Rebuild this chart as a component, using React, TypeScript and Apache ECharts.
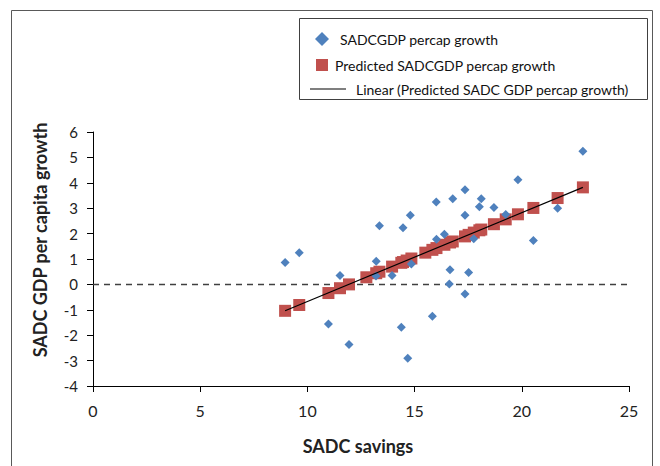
import React, { useEffect, useRef } from "react";
import * as echarts from "echarts";

// Observed SADC GDP per capita growth vs SADC savings
const observedX = [8.96, 9.62, 10.98, 11.52, 11.94, 13.21, 13.2, 13.36, 13.95, 14.38, 14.46, 14.68, 14.8, 14.85, 15.83, 16.01, 16.02, 16.39, 16.62, 16.65, 16.78, 17.35, 17.35, 17.35, 17.52, 17.76, 18.02, 18.11, 18.7, 19.25, 19.82, 20.54, 21.67, 22.85];
const observedY = [0.86, 1.25, -1.56, 0.35, -2.37, 0.91, 0.33, 2.31, 0.35, -1.69, 2.23, -2.91, 2.72, 0.8, -1.25, 3.24, 1.78, 1.97, 0.02, 0.58, 3.37, 3.73, 2.72, -0.38, 0.47, 1.8, 3.06, 3.37, 3.03, 2.75, 4.12, 1.73, 3.0, 5.24];

// Predicted values
const predictedX = [8.96, 9.62, 10.98, 11.52, 11.94, 12.75, 13.21, 13.36, 13.95, 14.38, 14.46, 14.63, 14.85, 15.5, 15.83, 16.02, 16.39, 16.65, 16.78, 17.35, 17.52, 17.76, 18.02, 18.11, 18.7, 19.25, 19.82, 20.54, 21.67, 22.85];
const predictedY = [-1.04, -0.81, -0.34, -0.15, 0.0, 0.28, 0.44, 0.5, 0.7, 0.85, 0.88, 0.94, 1.02, 1.25, 1.36, 1.43, 1.56, 1.65, 1.69, 1.89, 1.95, 2.04, 2.13, 2.16, 2.37, 2.56, 2.76, 3.01, 3.4, 3.82];

// Linear trendline endpoints
const trendX = [8.96, 22.85];
const trendY = [-1.04, 3.82];

// Zero reference line
const zeroX = [0, 25];
const zeroY = [0, 0];

const xTicks = { min: 0, max: 25, interval: 5 };
const yTicks = { min: -4, max: 6, interval: 1 };

const names = [
  "SADCGDP percap growth",
  "Predicted SADCGDP percap growth",
  "Linear (Predicted SADC GDP percap growth)",
];

const FONT = "Lato";

export default function App() {
  const ref = useRef<HTMLDivElement>(null);
  useEffect(() => {
    if (!ref.current) return;
    const chart = echarts.init(ref.current, null, { renderer: "svg" });
    const zip = (a: number[], b: number[]) => a.map((v, i) => [v, b[i]]);
    const legendText = { fontFamily: FONT, fontSize: 14, color: "#111" };
    chart.setOption({
      animation: false,
      backgroundColor: "#fff",
      grid: { left: 93, right: 31, top: 132, bottom: 80, containLabel: false },
      xAxis: {
        type: "value",
        min: xTicks.min,
        max: xTicks.max,
        interval: xTicks.interval,
        axisLine: { onZero: false, lineStyle: { color: "#000", width: 1 } },
        axisTick: { show: true, length: 6, lineStyle: { color: "#000" } },
        axisLabel: { margin: 16, fontFamily: FONT, fontSize: 16, color: "#222" },
        splitLine: { show: false },
      },
      yAxis: {
        type: "value",
        min: yTicks.min,
        max: yTicks.max,
        interval: yTicks.interval,
        axisLine: { show: true, onZero: false, lineStyle: { color: "#000", width: 1 } },
        axisTick: { show: true, length: 6, lineStyle: { color: "#000" } },
        axisLabel: { margin: 15, fontFamily: FONT, fontSize: 15, color: "#222" },
        splitLine: { show: false },
      },
      legend: [
        {
          data: [{ name: names[0], icon: "diamond" }],
          left: 310, top: 27, itemWidth: 14, itemHeight: 14, itemGap: 0,
          textStyle: { ...legendText, padding: [0, 0, 0, 6] },
          selectedMode: false,
        },
        {
          data: [{ name: names[1], icon: "rect" }],
          left: 311, top: 53, itemWidth: 12, itemHeight: 12,
          textStyle: { ...legendText, padding: [0, 0, 0, 2] },
          selectedMode: false,
        },
        {
          data: [{ name: names[2], icon: "path://M0,0 L36,0 L36,1 L0,1 Z" }],
          left: 305, top: 77, itemWidth: 36, itemHeight: 1,
          textStyle: { ...legendText, padding: [0, 0, 0, 5] },
          selectedMode: false,
        },
      ],
      graphic: [
        {
          type: "rect",
          shape: { x: 11.5, y: 10.5, width: 641, height: 470 },
          style: { fill: "none", stroke: "#595959", lineWidth: 1 },
          silent: true,
          z: -1,
        },
        {
          type: "rect",
          shape: { x: 299.5, y: 18.5, width: 348, height: 81 },
          style: { fill: "none", stroke: "#404040", lineWidth: 1 },
          silent: true,
        },
        {
          type: "text",
          x: 358,
          y: 446,
          style: {
            text: "SADC savings",
            fontFamily: FONT,
            fontSize: 18,
            fontWeight: "bold",
            fill: "#222",
            align: "center",
            verticalAlign: "middle",
          },
        },
        {
          type: "text",
          x: 40,
          y: 240,
          rotation: Math.PI / 2,
          style: {
            text: "SADC GDP per capita growth",
            fontFamily: FONT,
            fontSize: 18,
            fontWeight: "bold",
            fill: "#222",
            align: "center",
            verticalAlign: "middle",
          },
        },
      ],
      series: [
        {
          name: "zero",
          type: "line",
          data: zip(zeroX, zeroY),
          symbol: "none",
          lineStyle: { color: "#404040", width: 1.5, type: [6, 5] },
          silent: true,
          z: 1,
        },
        {
          name: names[1],
          type: "scatter",
          data: zip(predictedX, predictedY),
          symbol: "rect",
          symbolSize: 12,
          itemStyle: { color: "#C0504D", opacity: 1 },
          z: 2,
        },
        {
          name: names[0],
          type: "scatter",
          data: zip(observedX, observedY),
          symbol: "diamond",
          symbolSize: 9,
          itemStyle: { color: "#4F81BD", opacity: 1 },
          z: 3,
        },
        {
          name: names[2],
          type: "line",
          data: zip(trendX, trendY),
          symbol: "none",
          lineStyle: { color: "#000", width: 1.2 },
          itemStyle: { color: "#000" },
          z: 4,
        },
      ],
    });
    return () => chart.dispose();
  }, []);
  return (
    <div
      ref={ref}
      style={{ position: "fixed", left: 0, top: 0, width: 660, height: 466 }}
    />
  );
}
